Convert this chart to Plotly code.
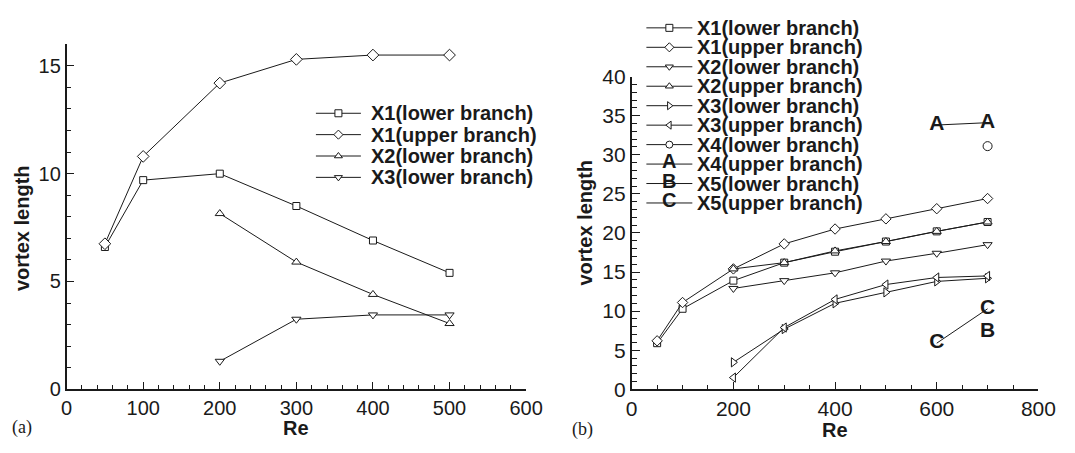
import plotly.graph_objects as go

# ---------------- data ----------------
re_a = [50, 100, 200, 300, 400, 500]
re_a_hi = [200, 300, 400, 500]
a_x1_lower = [6.6, 9.7, 10.0, 8.5, 6.9, 5.4]
a_x1_upper = [6.75, 10.8, 14.2, 15.3, 15.5, 15.5]
a_x2_lower = [8.15, 5.9, 4.4, 3.05]
a_x3_lower = [1.3, 3.25, 3.45, 3.45]

re_b = [50, 100, 200, 300, 400, 500, 600, 700]
re_b_hi = [200, 300, 400, 500, 600, 700]
b_x1_lower = [5.9, 10.3, 13.9, 16.2, 17.6, 18.9, 20.2, 21.4]
b_x1_upper = [6.2, 11.1, 15.4, 18.6, 20.5, 21.8, 23.1, 24.4]
b_x2_lower = [12.9, 13.9, 14.9, 16.4, 17.4, 18.5]
b_x2_upper = [15.4, 16.2, 17.7, 18.9, 20.2, 21.4]
b_x3_lower = [3.45, 7.7, 11.0, 12.4, 13.8, 14.2]
b_x3_upper = [1.5, 7.9, 11.5, 13.4, 14.3, 14.5]
re_x4_lower = [700]
b_x4_lower = [31.1]
re_x4_upper = [600, 700]
b_x4_upper = [33.8, 34.1]
re_x5_lower = [700]
b_x5_lower = [7.4]
re_x5_upper = [600, 700]
b_x5_upper = [5.9, 10.3]

labels_a = ["X1(lower branch)", "X1(upper branch)", "X2(lower branch)", "X3(lower branch)"]
labels_b = ["X1(lower branch)", "X1(upper branch)", "X2(lower branch)", "X2(upper branch)",
            "X3(lower branch)", "X3(upper branch)", "X4(lower branch)", "X4(upper branch)",
            "X5(lower branch)", "X5(upper branch)"]

# ---------------- styling ----------------
W, H = 1075, 453
INK = "#1a1a1a"
SANS = "Liberation Sans, Arial, sans-serif"
SERIF = "Liberation Serif, Times New Roman, serif"
LINE = dict(color=INK, width=1)


def px_x(p):
    return p / W


def px_y(p):
    return 1 - p / H


fig = go.Figure()


def series(x, y, symbol, size, xa, ya):
    fig.add_trace(go.Scatter(
        x=x, y=y, mode="lines+markers", line=LINE,
        marker=dict(symbol=symbol, size=size, color="white",
                    line=dict(color=INK, width=1)),
        xaxis=xa, yaxis=ya, showlegend=False, cliponaxis=False))


def text_series(x, y, letter, xa, ya, lines=True):
    fig.add_trace(go.Scatter(
        x=x, y=y, mode="lines+text" if lines else "text", line=LINE,
        text=[letter] * len(x), textposition="middle center",
        textfont=dict(family=SANS, size=21, color=INK, weight="bold"),
        xaxis=xa, yaxis=ya, showlegend=False, cliponaxis=False))


# panel (a)
series(re_a, a_x1_lower, "square", 7, "x", "y")
series(re_a, a_x1_upper, "diamond", 9, "x", "y")
series(re_a_hi, a_x2_lower, "triangle-up", 8, "x", "y")
series(re_a_hi, a_x3_lower, "triangle-down", 8, "x", "y")

# panel (b)
series(re_b, b_x1_lower, "square", 7, "x2", "y2")
series(re_b, b_x1_upper, "diamond", 8, "x2", "y2")
series(re_b_hi, b_x2_lower, "triangle-down", 8, "x2", "y2")
series(re_b_hi, b_x2_upper, "triangle-up", 8, "x2", "y2")
series(re_b_hi, b_x3_lower, "triangle-right", 8, "x2", "y2")
series(re_b_hi, b_x3_upper, "triangle-left", 8, "x2", "y2")
series(re_x4_lower, b_x4_lower, "circle", 9, "x2", "y2")
text_series(re_x4_upper, b_x4_upper, "A", "x2", "y2")
text_series(re_x5_lower, b_x5_lower, "B", "x2", "y2", lines=False)
text_series(re_x5_upper, b_x5_upper, "C", "x2", "y2")

# ---------------- legends (drawn in a pixel-space overlay) ----------------
annotations = []


def legend_block(x0, x1, xt, rows, labels, kinds, fsize):
    xc = (x0 + x1) / 2
    for yrow, lab, kind in zip(rows, labels, kinds):
        fig.add_trace(go.Scatter(
            x=[x0, x1], y=[yrow, yrow], mode="lines", line=LINE,
            xaxis="x3", yaxis="y3", showlegend=False, hoverinfo="skip"))
        if kind in ("A", "B", "C"):
            annotations.append(dict(
                x=xc, y=yrow - 3, xref="x3", yref="y3", text="<b>%s</b>" % kind,
                showarrow=False, xanchor="center", yanchor="middle",
                font=dict(family=SANS, size=fsize, color=INK)))
        else:
            fig.add_trace(go.Scatter(
                x=[xc], y=[yrow], mode="markers",
                marker=dict(symbol=kind, size=7, color="white",
                            line=dict(color=INK, width=1)),
                xaxis="x3", yaxis="y3", showlegend=False, hoverinfo="skip"))
        annotations.append(dict(
            x=xt, y=yrow, xref="x3", yref="y3", text="<b>%s</b>" % lab,
            showarrow=False, xanchor="left", yanchor="middle",
            font=dict(family=SANS, size=fsize, color=INK)))


legend_block(317, 363, 371, [106.7, 129.2, 151.7, 174.2], labels_a,
             ["square", "diamond", "triangle-up", "triangle-down"], 20)
legend_block(655, 702, 705, [16.7 + 20.5 * i for i in range(10)], labels_b,
             ["square", "diamond", "triangle-down", "triangle-up",
              "triangle-right", "triangle-left", "circle", "A", "B", "C"], 20)

# ---------------- axis titles and panel tags ----------------
for x, y, txt, ang in [(297, 438, "Re", 0), (848, 440, "Re", 0),
                       (17, 228, "vortex length", -90), (592, 222, "vortex length", -90)]:
    annotations.append(dict(x=x, y=y, xref="x3", yref="y3", text="<b>%s</b>" % txt,
                            showarrow=False, textangle=ang, xanchor="center", yanchor="middle",
                            font=dict(family=SANS, size=20, color=INK)))
for x, y, txt in [(16, 438, "(a)"), (590, 440, "(b)")]:
    annotations.append(dict(x=x, y=y, xref="x3", yref="y3", text=txt, showarrow=False,
                            xanchor="center", yanchor="middle",
                            font=dict(family=SERIF, size=18, color=INK)))

# ---------------- axes ----------------
BASE = 397.5


def axis(domain, rng, dtick, mdtick, anchor, fsize):
    return dict(domain=domain, range=rng, dtick=dtick, tick0=0, anchor=anchor,
                showline=True, linecolor=INK, linewidth=1.6, mirror=False,
                ticks="inside", ticklen=8, tickwidth=1.4, tickcolor=INK,
                minor=dict(ticks="inside", ticklen=5, tickwidth=1.2, tickcolor=INK,
                           dtick=mdtick, tick0=0, showgrid=False),
                showgrid=False, zeroline=False,
                tickfont=dict(family=SANS, size=fsize, color=INK))


fig.update_layout(
    width=W, height=H, margin=dict(l=0, r=0, t=0, b=0),
    paper_bgcolor="white", plot_bgcolor="rgba(0,0,0,0)",
    xaxis=axis([px_x(62), px_x(532)], [0, 600], 100, 20, "y", 20),
    yaxis=axis([px_y(BASE), px_y(34)], [0, 16], 5, 1, "x", 20),
    xaxis2=axis([px_x(640), px_x(1056)], [0, 800], 200, 50, "y2", 21),
    yaxis2=axis([px_y(BASE), px_y(68)], [0, 40], 5, 1, "x2", 21),
    xaxis3=dict(domain=[0, 1], range=[0, W], visible=False, anchor="y3"),
    yaxis3=dict(domain=[0, 1], range=[H, 0], visible=False, anchor="x3"),
    annotations=annotations,
    showlegend=False,
)

# page body without default margins so the figure sits at the window origin
PAGE_CSS = ("document.body.style.margin='0';"
            "document.body.style.overflow='hidden';"
            "document.documentElement.style.overflow='hidden';")

fig.write_html("out.html", post_script=PAGE_CSS)
